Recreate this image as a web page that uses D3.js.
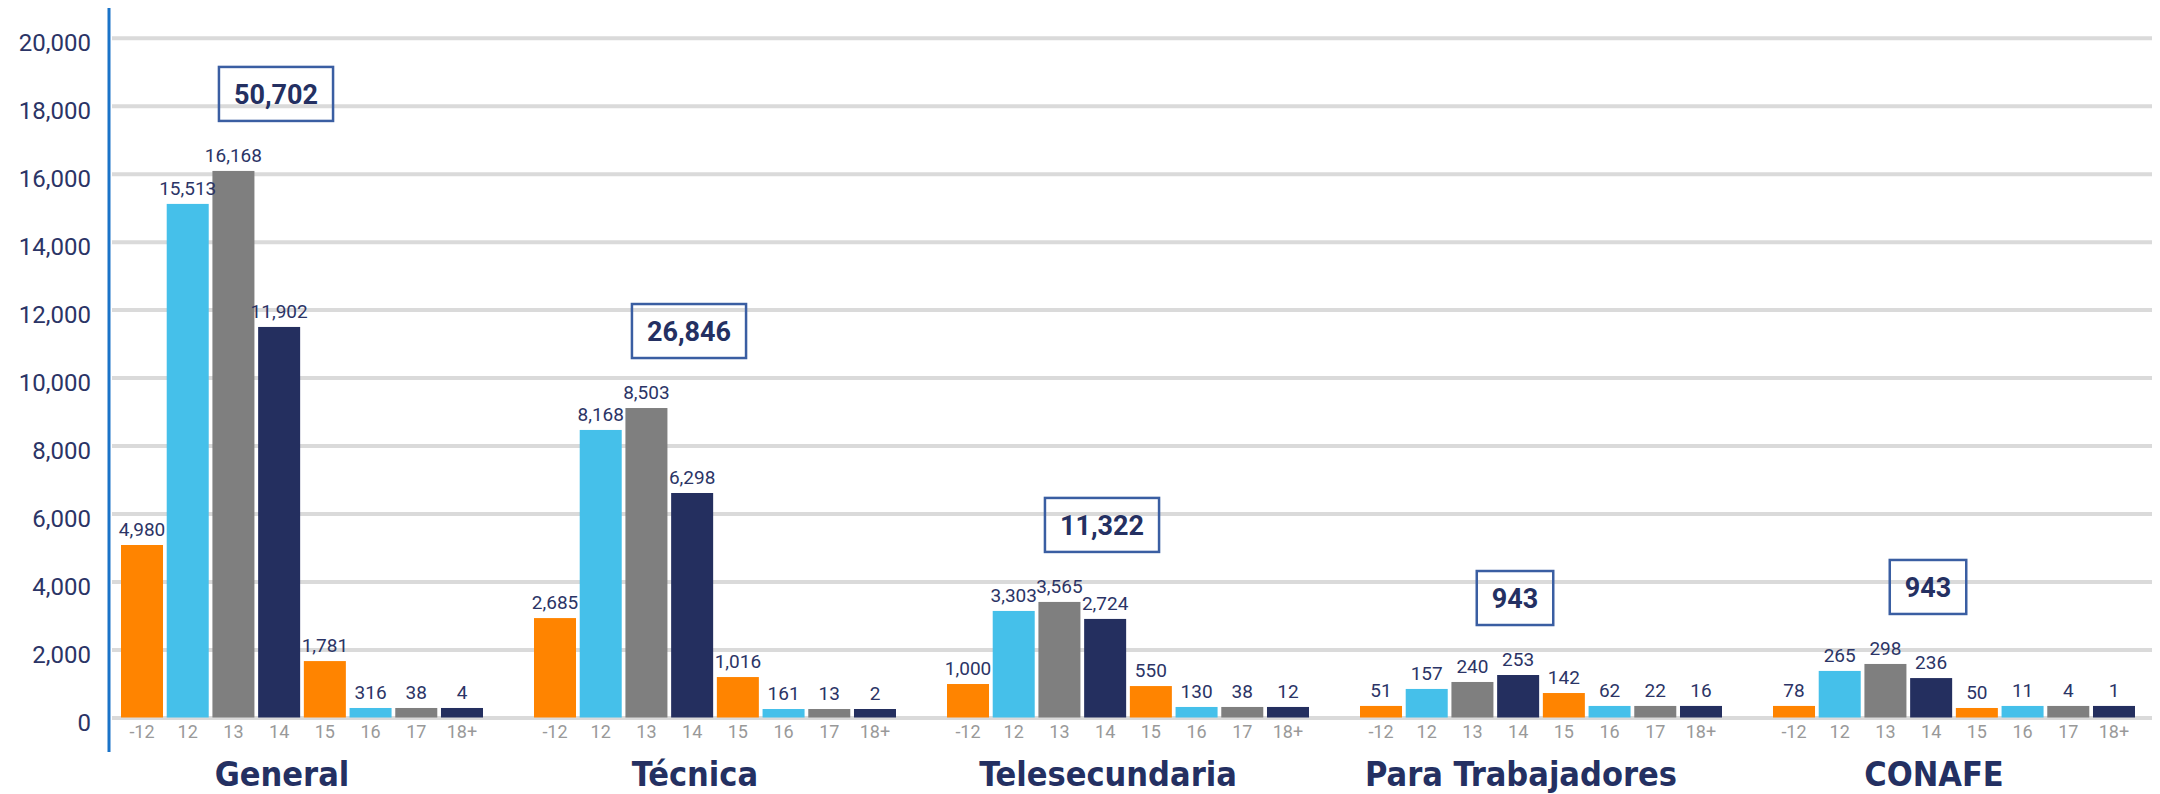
<!DOCTYPE html>
<html>
<head>
<meta charset="utf-8">
<script src="https://cdn.jsdelivr.net/npm/d3@7"></script>
<style>
  body { margin: 0; background: #fff; }
  svg text { font-family: Roboto, 'Open Sans', sans-serif; }
  .title { font-family: 'Liberation Sans Narrow', 'DejaVu Sans Condensed', Roboto, sans-serif; font-weight: bold; }
</style>
</head>
<body>
<script>
var groups = ['General', 'Técnica', 'Telesecundaria', 'Para Trabajadores', 'CONAFE']
var ages = ['-12', '12', '13', '14', '15', '16', '17', '18+']
var totals = [50702, 26846, 11322, 943, 943]

// numbers printed over the bars
var countsGeneral = [4980, 15513, 16168, 11902, 1781, 316, 38, 4]
var countsTecnica = [2685, 8168, 8503, 6298, 1016, 161, 13, 2]
var countsTele = [1000, 3303, 3565, 2724, 550, 130, 38, 12]
var countsTrab = [51, 157, 240, 253, 142, 62, 22, 16]
var countsConafe = [78, 265, 298, 236, 50, 11, 4, 1]

// bar heights as they sit against the y axis in the original (small groups are drawn enlarged)
var heightsGeneral = [5075, 15110, 16080, 11490, 1660, 280, 280, 280]
var heightsTecnica = [2925, 8460, 9105, 6605, 1190, 250, 250, 250]
var heightsTele = [985, 3135, 3400, 2900, 925, 310, 310, 310]
var heightsTrab = [340, 840, 1045, 1250, 720, 340, 340, 340]
var heightsConafe = [340, 1370, 1575, 1160, 280, 340, 340, 340]

var yTicks = [0, 2000, 4000, 6000, 8000, 10000, 12000, 14000, 16000, 18000, 20000]

var barColors = ['#ff8400', '#45c0ea', '#7f7f7f', '#242f5f']

var counts = [countsGeneral, countsTecnica, countsTele, countsTrab, countsConafe]
var heights = [heightsGeneral, heightsTecnica, heightsTele, heightsTrab, heightsConafe]

var width = 2160, height = 794
var svg = d3.select('body').append('svg').attr('width', width).attr('height', height)

var y = d3.scaleLinear().domain([0, 20000]).range([717.5, 37.7])
var x0 = d3.scaleBand().domain(groups).range([121, 2135]).paddingInner(0.1235)
var x1 = d3.scaleBand().domain(ages).range([0, x0.bandwidth()]).paddingInner(0.081)

// grid + y labels
var yAxis = svg.append('g')
  .attr('transform', 'translate(112,0)')
  .call(d3.axisLeft(y).tickValues(yTicks).tickFormat(d3.format(',')).tickSize(-2040).tickPadding(21))
yAxis.select('.domain').remove()
yAxis.selectAll('.tick line').attr('stroke', '#dadada').attr('stroke-width', 4)
yAxis.selectAll('.tick text')
  .attr('fill', '#2b3466').attr('font-size', 24).attr('dy', '0.55em')
  .style('font-family', 'Roboto, sans-serif')

svg.append('line')
  .attr('x1', 109).attr('x2', 109).attr('y1', 8).attr('y2', 752)
  .attr('stroke', '#1a73c8').attr('stroke-width', 3)

var rows = groups.map(function(g, gi) {
  return ages.map(function(a, i) {
    return {group: g, age: a, i: i, count: counts[gi][i], h: heights[gi][i]}
  })
})

var gSel = svg.selectAll('g.grp').data(rows).join('g')
  .attr('class', 'grp')
  .attr('transform', function(d) { return 'translate(' + x0(d[0].group) + ',0)' })

gSel.selectAll('rect').data(function(d) { return d }).join('rect')
  .attr('x', function(d) { return x1(d.age) })
  .attr('width', x1.bandwidth())
  .attr('y', function(d) { return y(d.h) })
  .attr('height', function(d) { return y(0) - y(d.h) })
  .attr('fill', function(d) { return barColors[d.i % 4] })

gSel.selectAll('text.val').data(function(d) { return d }).join('text')
  .attr('class', 'val')
  .attr('x', function(d) { return x1(d.age) + x1.bandwidth() / 2 })
  .attr('y', function(d) { return y(d.h) - 9 })
  .attr('text-anchor', 'middle')
  .attr('font-size', 19)
  .attr('fill', '#2b3466')
  .text(function(d) { return d3.format(',')(d.count) })

gSel.selectAll('text.age').data(function(d) { return d }).join('text')
  .attr('class', 'age')
  .attr('x', function(d) { return x1(d.age) + x1.bandwidth() / 2 })
  .attr('y', 738)
  .attr('text-anchor', 'middle')
  .attr('font-size', 18)
  .attr('fill', '#999999')
  .text(function(d) { return d.age })

// group titles and total boxes
groups.forEach(function(g, gi) {
  var cx = x0(g) + x0.bandwidth() / 2
  svg.append('text')
    .attr('class', 'title')
    .attr('x', cx - 20).attr('y', 786)
    .attr('text-anchor', 'middle')
    .attr('font-size', 34)
    .attr('fill', '#243062')
    .text(g)

  var bx = cx - 26
  var bottom = y(d3.max(heights[gi])) - 50
  var box = svg.append('g')
  var rect = box.append('rect')
  var t = box.append('text')
    .attr('x', bx).attr('y', bottom - 27)
    .attr('dy', '0.36em')
    .attr('text-anchor', 'middle')
    .attr('font-size', 27)
    .attr('font-weight', 'bold')
    .attr('fill', '#243062')
    .text(d3.format(',')(totals[gi]))
  var w = t.node().getComputedTextLength() + 30
  rect.attr('x', bx - w / 2).attr('y', bottom - 54)
    .attr('width', w).attr('height', 54)
    .attr('fill', 'none').attr('stroke', '#3a5ea2').attr('stroke-width', 2.5)
})
</script>
</body>
</html>
